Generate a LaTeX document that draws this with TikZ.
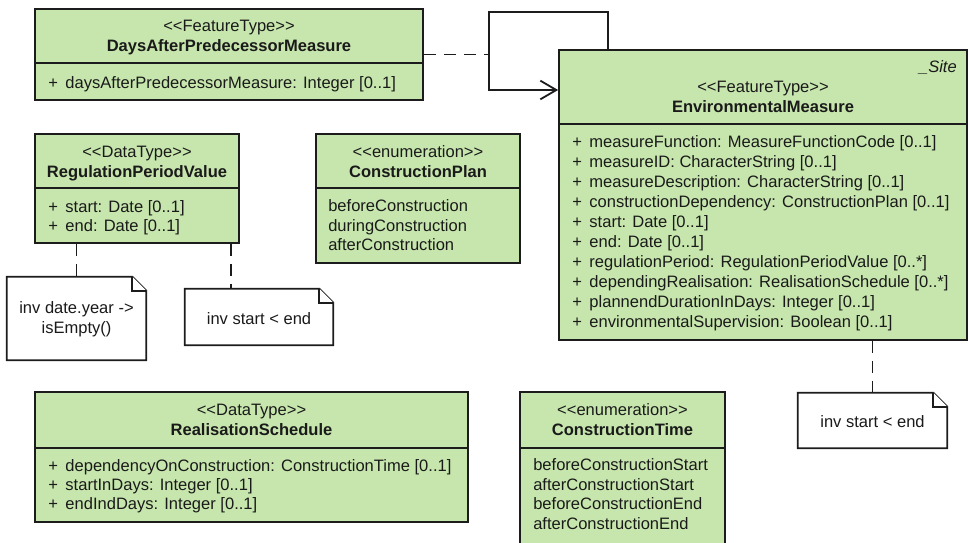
\documentclass[tikz,border=0pt]{standalone}
\usepackage{fontspec}
\setmainfont{Liberation Sans}
\usetikzlibrary{arrows.meta,calc,fit}

\definecolor{umlfill}{HTML}{C7E6AD}
\definecolor{umlline}{HTML}{1C1C1C}
\definecolor{umltext}{HTML}{1A1A1A}

% guillemet-free stereotype brackets
\newcommand\stereotype[1]{<\kern0pt<#1>\kern0pt>}
% attribute line with visibility marker
\newcommand\attr[1]{\makebox[12.9pt][l]{+}#1}
% UML note outline with folded corner
\newcommand\drawnote[1]{%
  \draw[noteline] (#1.north west) -- ($(#1.north east)+(-14,0)$) -- ($(#1.north east)+(0,14)$)
    -- (#1.south east) -- (#1.south west) -- cycle;
  \draw[noteline] ($(#1.north east)+(-14,0)$) -- ($(#1.north east)+(-14,14)$) -- ($(#1.north east)+(0,14)$);}

\tikzset{
  classbox/.style={draw=umlline, fill=umlfill, line width=1.35pt, inner sep=0pt},
  noteframe/.style={inner sep=0pt},
  noteline/.style={draw=umlline, fill=white, line width=1.35pt, line join=miter},
  sepline/.style={draw=umlline, line width=1.35pt},
  lbl/.style={inner sep=0pt, anchor=mid, yshift=-1.9pt, text=umltext, font=\fontsize{12.4pt}{15pt}\selectfont},
  namelbl/.style={lbl, font=\fontsize{12.4pt}{15pt}\selectfont\bfseries},
  leftlbl/.style={lbl, anchor=mid west},
  link/.style={draw=umlline, line width=1.35pt, line join=miter},
  dashlink/.style={link, dash pattern=on 9pt off 6pt},
  navarrow/.style={-{Straight Barb[length=12pt,width=14pt]}}
}

\begin{document}
\begin{tikzpicture}[x=0.75pt,y=-0.75pt]
\clip (0,0) rectangle (969,542);
\fill[white] (0,0) rectangle (969,542);

% DaysAfterPredecessorMeasure
\node[classbox, fit={(35,9) (423,100)}] (dapm) {};
\draw[sepline] (35,63) -- (423,63);
\node[lbl] (dapm-st) at (229,25) {\stereotype{FeatureType}};
\node[namelbl] (dapm-nm) at (229,45) {DaysAfterPredecessorMeasure};
\node[leftlbl] (dapm-a1) at (48,82) {\attr{daysAfterPredecessorMeasure: Integer [0..1]}};

% EnvironmentalMeasure
\node[classbox, fit={(559,50) (967,340)}] (em) {};
\draw[sepline] (559,124) -- (967,124);
\node[lbl, anchor=mid east, font=\fontsize{12.4pt}{15pt}\selectfont\itshape] (em-tag) at (957,66) {\_Site};
\node[lbl] (em-st) at (763,86) {\stereotype{FeatureType}};
\node[namelbl] (em-nm) at (763,106) {EnvironmentalMeasure};
\foreach \t [count=\i from 0] in {
  measureFunction: MeasureFunctionCode [0..1],
  measureID: CharacterString [0..1],
  measureDescription: CharacterString [0..1],
  constructionDependency: ConstructionPlan [0..1],
  start: Date [0..1],
  end: Date [0..1],
  regulationPeriod: RegulationPeriodValue [0..*],
  dependingRealisation: RealisationSchedule [0..*],
  plannendDurationInDays: Integer [0..1],
  environmentalSupervision: Boolean [0..1]}
  \node[leftlbl] (em-a\i) at (572,141+20*\i) {\attr{\t}};

% RegulationPeriodValue
\node[classbox, fit={(35,134) (239,243)}] (rpv) {};
\draw[sepline] (35,188) -- (239,188);
\node[lbl] (rpv-st) at (137,151) {\stereotype{DataType}};
\node[namelbl] (rpv-nm) at (137,171) {RegulationPeriodValue};
\node[leftlbl] (rpv-a1) at (48,206) {\attr{start: Date [0..1]}};
\node[leftlbl] (rpv-a2) at (48,225) {\attr{end: Date [0..1]}};

% ConstructionPlan
\node[classbox, fit={(316,134) (520,263)}] (cp) {};
\draw[sepline] (316,188) -- (520,188);
\node[lbl] (cp-st) at (418,151) {\stereotype{enumeration}};
\node[namelbl] (cp-nm) at (418,171) {ConstructionPlan};
\node[leftlbl] (cp-v1) at (328,205) {beforeConstruction};
\node[leftlbl] (cp-v2) at (328,225) {duringConstruction};
\node[leftlbl] (cp-v3) at (328,244) {afterConstruction};

% RealisationSchedule
\node[classbox, fit={(35,392) (468,522)}] (rs) {};
\draw[sepline] (35,448) -- (468,448);
\node[lbl] (rs-st) at (251.5,409) {\stereotype{DataType}};
\node[namelbl] (rs-nm) at (251.5,429) {RealisationSchedule};
\node[leftlbl] (rs-a1) at (48,465) {\attr{dependencyOnConstruction: ConstructionTime [0..1]}};
\node[leftlbl] (rs-a2) at (48,484) {\attr{startInDays: Integer [0..1]}};
\node[leftlbl] (rs-a3) at (48,503) {\attr{endIndDays: Integer [0..1]}};

% ConstructionTime
\node[classbox, fit={(520,392) (725,570)}] (ct) {};
\draw[sepline] (520,448) -- (725,448);
\node[lbl] (ct-st) at (622.5,409) {\stereotype{enumeration}};
\node[namelbl] (ct-nm) at (622.5,429) {ConstructionTime};
\node[leftlbl] (ct-v1) at (533,464) {beforeConstructionStart};
\node[leftlbl] (ct-v2) at (533,484) {afterConstructionStart};
\node[leftlbl] (ct-v3) at (533,503) {beforeConstructionEnd};
\node[leftlbl] (ct-v4) at (533,523) {afterConstructionEnd};

% constraint notes
\node[noteframe, fit={(7,277) (146,360)}] (n1) {};
\drawnote{n1}
\node[lbl] (n1-l1) at (76.5,307) {inv date.year ->};
\node[lbl] (n1-l2) at (76.5,327) {isEmpty()};

\node[noteframe, fit={(185,289) (333,345)}] (n2) {};
\drawnote{n2}
\node[lbl] (n2-l1) at (259,318) {inv start < end};

\node[noteframe, fit={(798,393) (947,448)}] (n3) {};
\drawnote{n3}
\node[lbl] (n3-l1) at (872.5,421) {inv start < end};

% note anchors
\coordinate (n2top) at ($(n2.north west)+(46,0)$);
\draw[dashlink] (n1.north |- rpv.south) -- (n1.north);
\draw[dashlink] (n2top |- rpv.south) -- (n2top);
\draw[dashlink] (n3.north |- em.south) -- (n3.north);

% self association of EnvironmentalMeasure with association class
\coordinate (loopTL) at (489,12);
\coordinate (loopTR) at (608,12);
\coordinate (loopBL) at (489,90);
\draw[link, navarrow] (loopTR |- em.north) -- (loopTR) -- (loopTL) -- (loopBL) -- (loopBL -| em.west);
\draw[dashlink] (dapm.east) -- (dapm.east -| loopTL);
\end{tikzpicture}
\end{document}
